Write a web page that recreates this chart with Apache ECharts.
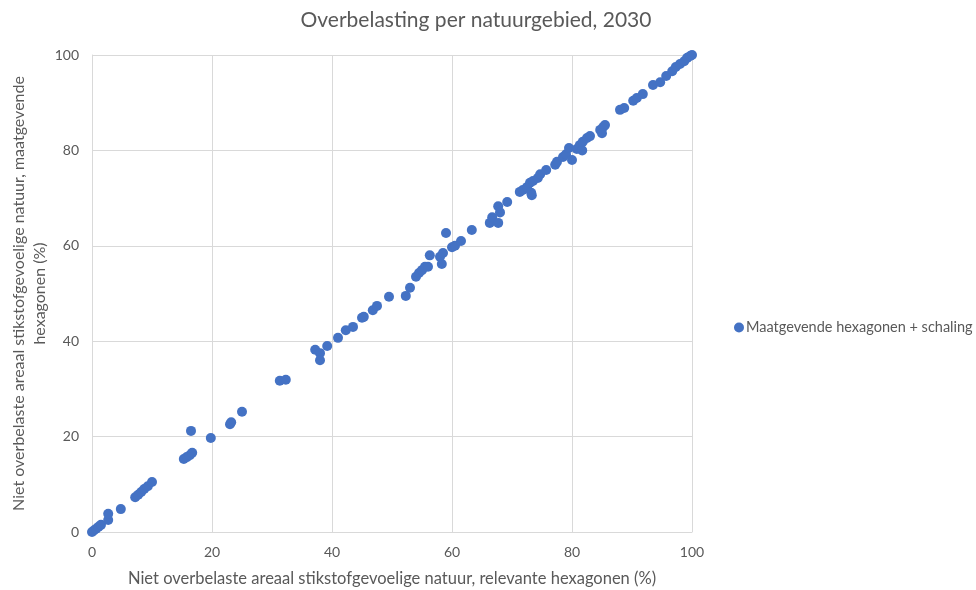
<!DOCTYPE html>
<html>
<head>
<meta charset="utf-8">
<script src="https://cdn.jsdelivr.net/npm/echarts@6/dist/echarts.min.js"></script>
<style>
  html, body { margin: 0; padding: 0; background: #fff; }
  #main { width: 976px; height: 590px; }
</style>
</head>
<body>
<div id="main"></div>
<script>
// relevante hexagonen (x) tegen maatgevende hexagonen (y), in %
var xVals = [
  0, 0.3, 0.7, 1.1, 1.5, 2.7, 2.7, 4.8, 7.2, 7.7, 8.2, 8.7, 9.3, 10,
  15.3, 15.8, 16.3, 16.7, 16.5, 19.8, 23, 23.2, 25, 31.3, 32.3,
  37.2, 38, 38, 39.2, 41, 42.3, 43.5, 45, 45.3, 46.8, 47.5, 49.5,
  52.3, 53, 54, 54.5, 55, 55.5, 56, 56.3, 58, 58.3, 58.5, 59,
  60, 60.5, 61.5, 63.3, 66.3, 66.7, 67.7, 67.7, 68, 69.2,
  71.3, 71.8, 72.5, 73, 73.2, 73.3, 73.5, 74.3, 74.7, 75.7,
  77.2, 77.5, 78.5, 79, 79.5, 80, 80.8, 81.3, 81.7, 81.8, 82.5, 83,
  84.7, 85.2, 85.5, 85, 88, 88.7, 90.2, 90.8, 91.8, 93.5, 94.7, 95.7,
  96.7, 97.3, 98, 98.7, 99.2, 99.7, 100
];
var yVals = [
  0, 0.3, 0.7, 1.1, 1.5, 2.5, 3.8, 4.8, 7.3, 7.8, 8.4, 9, 9.6, 10.5,
  15.3, 15.7, 16.1, 16.6, 21.2, 19.7, 22.6, 23, 25.2, 31.7, 31.9,
  38.2, 37.5, 36, 39, 40.7, 42.3, 43, 44.9, 45.1, 46.5, 47.4, 49.3,
  49.5, 51.2, 53.5, 54.3, 54.9, 55.6, 55.6, 58, 57.7, 56.2, 58.5, 62.7,
  59.7, 60, 61, 63.3, 64.8, 66, 64.8, 68.3, 67, 69.2,
  71.3, 71.7, 72.3, 73.2, 71.1, 70.6, 73.6, 74.2, 75, 75.9,
  77, 77.6, 78.6, 79.2, 80.5, 78, 80.3, 81.1, 80, 81.8, 82.6, 83,
  84.3, 84.9, 85.3, 83.6, 88.5, 88.9, 90.4, 91, 91.8, 93.7, 94.3, 95.6,
  96.6, 97.5, 98.1, 98.7, 99.4, 99.8, 100
];
var axisTicks = [0, 20, 40, 60, 80, 100];

var points = xVals.map(function (x, i) { return [x, yVals[i]]; });
var txt = '#595959';
var gridCol = '#d9d9d9';
var font = 'Lato';

var chart = echarts.init(document.getElementById('main'));
chart.setOption({
  animation: false,
  backgroundColor: '#fff',
  title: {
    text: 'Overbelasting per natuurgebied, 2030',
    left: 471,
    top: 5,
    textAlign: 'center',
    textStyle: { color: txt, fontSize: 21, fontWeight: 'normal', fontFamily: font }
  },
  legend: {
    left: 729,
    top: 315,
    icon: 'circle',
    itemWidth: 10,
    itemHeight: 10,
    itemGap: 4,
    textStyle: { color: txt, fontSize: 14.5, fontFamily: font, padding: [0, 0, 0, -3] },
    data: ['Maatgevende hexagonen + schaling']
  },
  grid: { left: 92, right: 284, top: 55, bottom: 58, containLabel: false, outerBoundsMode: 'none' },
  xAxis: {
    type: 'value',
    min: axisTicks[0],
    max: axisTicks[axisTicks.length - 1],
    interval: 20,
    name: 'Niet overbelaste areaal stikstofgevoelige natuur, relevante hexagonen (%)',
    nameLocation: 'middle',
    nameGap: 38,
    nameTextStyle: { color: txt, fontSize: 16.5, fontFamily: font },
    axisLine: { show: true, lineStyle: { color: gridCol } },
    axisTick: { show: false },
    axisLabel: { color: txt, fontSize: 14, fontFamily: font, margin: 13 },
    splitLine: { show: true, lineStyle: { color: gridCol } }
  },
  yAxis: {
    type: 'value',
    min: axisTicks[0],
    max: axisTicks[axisTicks.length - 1],
    interval: 20,
    name: 'Niet overbelaste areaal stikstofgevoelige natuur, maatgevende\nhexagonen (%)',
    nameLocation: 'middle',
    nameGap: 42,
    nameMoveOverlap: false,
    nameTextStyle: { color: txt, fontSize: 16, fontFamily: font, lineHeight: 21 },
    axisLine: { show: true, lineStyle: { color: gridCol } },
    axisTick: { show: false },
    axisLabel: { color: txt, fontSize: 14, fontFamily: font, margin: 13 },
    splitLine: { show: true, lineStyle: { color: gridCol } }
  },
  series: [{
    name: 'Maatgevende hexagonen + schaling',
    type: 'scatter',
    symbol: 'circle',
    symbolSize: 10,
    itemStyle: { color: '#4472C4', opacity: 1 },
    data: points
  }]
});
</script>
</body>
</html>
